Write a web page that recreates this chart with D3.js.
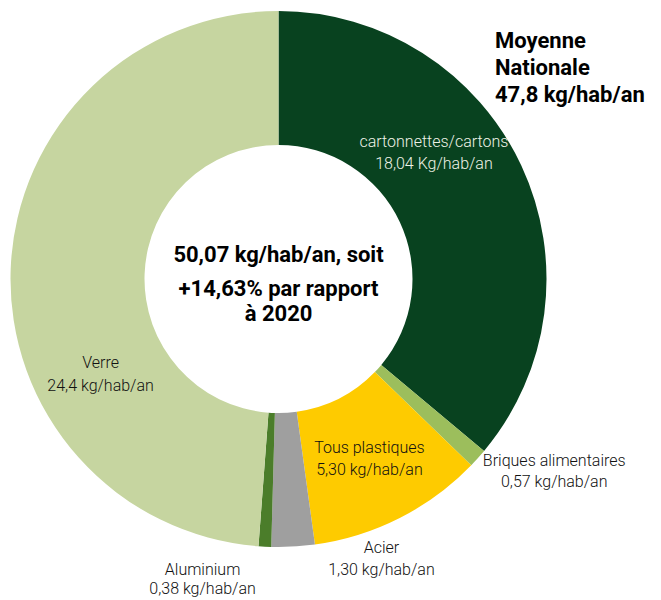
<!DOCTYPE html>
<html>
<head>
<meta charset="utf-8">
<script src="https://cdn.jsdelivr.net/npm/d3@7"></script>
<style>
  html, body { margin: 0; padding: 0; background: #ffffff; }
  svg { display: block; }
  .lbl { font-family: "Roboto", "Liberation Sans", sans-serif; font-size: 16px; font-weight: 300; }
  .bold { font-family: "Roboto", "Liberation Sans", sans-serif; font-weight: bold; font-size: 22px; fill: #000; }
</style>
</head>
<body>
<svg id="chart" width="661" height="600"></svg>
<script>
// Collecte par habitant, par type d'emballage (kg/hab/an)
const categories = ["cartonnettes/cartons", "Briques alimentaires", "Tous plastiques", "Acier", "Aluminium", "Verre"];
const values = [18.04, 0.57, 5.30, 1.30, 0.38, 24.4];
const valueLabels = ["18,04 Kg/hab/an", "0,57 kg/hab/an", "5,30 kg/hab/an", "1,30 kg/hab/an", "0,38 kg/hab/an", "24,4 kg/hab/an"];
const colors = ["#08421f", "#9cbe5c", "#fecb00", "#9f9f9f", "#4b7d2a", "#c6d5a0"];
const centerLines = ["50,07 kg/hab/an, soit", "+14,63% par rapport", "à 2020"];
const nationalLines = ["Moyenne", "Nationale", "47,8 kg/hab/an"];

const svg = d3.select("#chart");
const cx = 278.5, cy = 279, R = 268, r = 134;
const g = svg.append("g").attr("transform", `translate(${cx},${cy})`);

const data = categories.map((c, i) => ({ name: c, value: values[i], valueLabel: valueLabels[i], color: colors[i] }));

const pie = d3.pie().value(d => d.value).sort(null);
const arcs = pie(data);
const arc = d3.arc().innerRadius(r).outerRadius(R);

g.selectAll("path.slice")
  .data(arcs)
  .enter().append("path")
  .attr("class", "slice")
  .attr("d", arc)
  .attr("fill", d => d.data.color);

// label placement: inside the ring or just outside it
const midR = (r + R) / 2;
const polar = (a, rad) => [Math.sin(a) * rad, -Math.cos(a) * rad];
const placement = {
  "cartonnettes/cartons": { mode: "in", t: 0.39, fill: "#eef2e6", gap: 22 },
  "Briques alimentaires": { mode: "out", dx: 72, dy: -8, fill: "#111", gap: 21 },
  "Tous plastiques": { mode: "in", t: 0.5, fill: "#111", gap: 22 },
  "Acier": { mode: "out", dx: 88, dy: -12, fill: "#111", gap: 22 },
  "Aluminium": { mode: "out", dx: -62, dy: 10, fill: "#111", gap: 19 },
  "Verre": { mode: "in", t: 0.33, fill: "#111", gap: 23 }
};

arcs.forEach(a => {
  const p = placement[a.data.name];
  let x, y, first;
  if (p.mode === "in") {
    const ang = a.startAngle + (a.endAngle - a.startAngle) * p.t;
    [x, y] = polar(ang, midR);
    first = y - 5;
  } else {
    const ang = (a.startAngle + a.endAngle) / 2;
    [x, y] = polar(ang, R + 6);
    x += p.dx;
    first = y + 12 + p.dy;
  }
  const t = g.append("text").attr("class", "lbl").attr("text-anchor", "middle").attr("fill", p.fill);
  t.append("tspan").attr("x", x).attr("y", first).text(a.data.name);
  t.append("tspan").attr("x", x).attr("y", first + p.gap).text(a.data.valueLabel);
});

// centre text
const ct = g.append("text").attr("class", "bold").attr("text-anchor", "middle");
[-17, 17, 42].forEach((dy, i) => ct.append("tspan").attr("x", 0).attr("y", dy).text(centerLines[i]));

// national average
const nt = svg.append("text").attr("class", "bold");
[48, 75, 102].forEach((y, i) => nt.append("tspan").attr("x", 495).attr("y", y).text(nationalLines[i]));
</script>
</body>
</html>
